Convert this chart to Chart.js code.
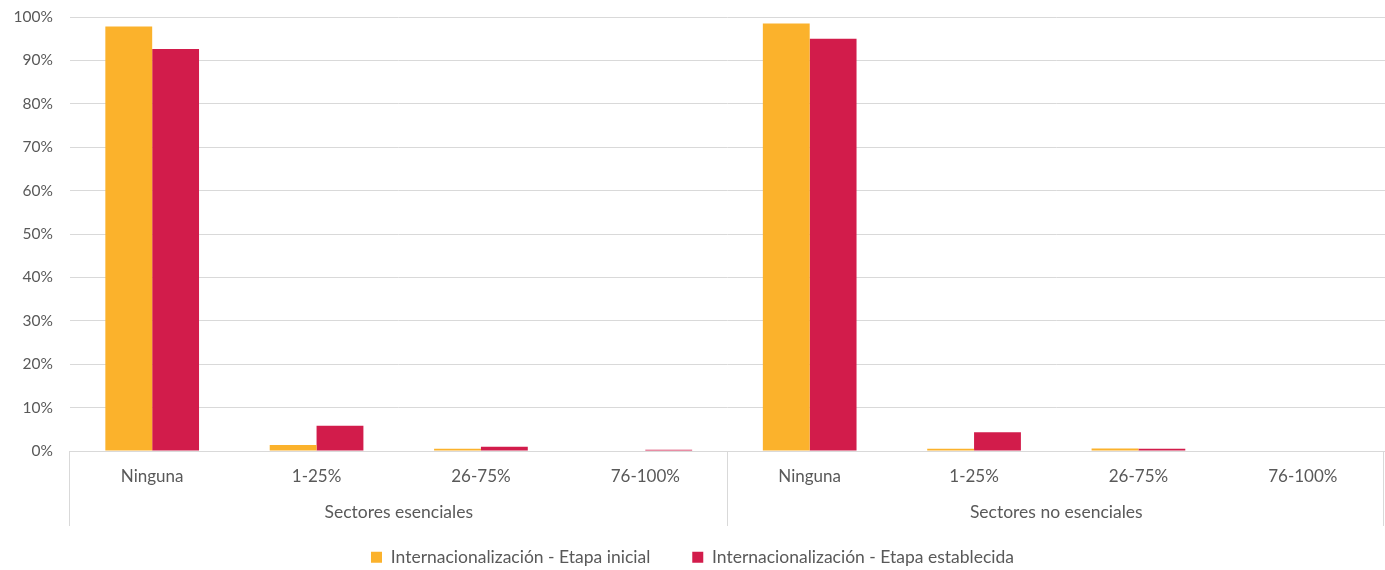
<!DOCTYPE html>
<html>
<head>
<meta charset="utf-8">
<script src="https://cdn.jsdelivr.net/npm/chart.js@4"></script>
<style>
  html, body { margin: 0; padding: 0; background: #fff; }
  #wrap { width: 1385px; height: 570px; }
</style>
</head>
<body>
<div id="wrap"><canvas id="myChart"></canvas></div>
<script>
const categories = ['Ninguna', '1-25%', '26-75%', '76-100%', 'Ninguna', '1-25%', '26-75%', '76-100%'];
const groups = ['Sectores esenciales', 'Sectores no esenciales'];
const seriesNames = ['Internacionalización - Etapa inicial', 'Internacionalización - Etapa establecida'];
const etapaInicial = [97.8, 1.4, 0.5, 0, 98.5, 0.5, 0.6, 0];
const etapaEstablecida = [92.6, 5.8, 1.0, 0.3, 95.0, 4.3, 0.5, 0];
const yTicks = [0, 10, 20, 30, 40, 50, 60, 70, 80, 90, 100];

const textColor = '#595959';
const lineColor = '#d9d9d9';
const fontFamily = 'Lato, "Open Sans", sans-serif';

// group labels + separators under the category axis
const groupAxis = {
  id: 'groupAxis',
  afterDraw(chart) {
    const ctx = chart.ctx;
    const x = chart.scales.x;
    const area = chart.chartArea;
    const half = (x.getPixelForValue(1) - x.getPixelForValue(0)) / 2;
    const per = categories.length / groups.length;
    ctx.save();
    ctx.strokeStyle = lineColor;
    ctx.lineWidth = 1;
    for (let g = 0; g <= groups.length; g++) {
      let px = g === groups.length ? x.getPixelForValue(categories.length - 1) + half : x.getPixelForValue(g * per) - half;
      px = Math.round(px) - 0.5;
      if (g === groups.length) px = Math.min(px, chart.width - 1.5);
      ctx.beginPath();
      ctx.moveTo(px, area.bottom);
      ctx.lineTo(px, area.bottom + 75);
      ctx.stroke();
    }
    ctx.fillStyle = textColor;
    ctx.font = '17.5px ' + fontFamily;
    ctx.textAlign = 'center';
    ctx.textBaseline = 'middle';
    groups.forEach((name, g) => {
      const a = x.getPixelForValue(g * per) - half;
      const b = x.getPixelForValue(g * per + per - 1) + half;
      ctx.fillText(name, (a + b) / 2, area.bottom + 61);
    });
    ctx.restore();
  }
};

const data = {
  labels: categories,
  datasets: [
    { label: seriesNames[0], data: etapaInicial, backgroundColor: '#FBB22C' },
    { label: seriesNames[1], data: etapaEstablecida, backgroundColor: '#D21C4B' }
  ]
};

const config = {
  type: 'bar',
  data: data,
  options: {
    responsive: true,
    maintainAspectRatio: false,
    animation: false,
    layout: { padding: { top: 17, right: 0, left: 0, bottom: -6 } },
    datasets: {
      bar: { categoryPercentage: 0.57, barPercentage: 1.0 }
    },
    scales: {
      x: {
        grid: { display: false, drawTicks: false },
        border: { display: true, color: lineColor, width: 1 },
        ticks: {
          color: textColor,
          font: { size: 17, family: fontFamily },
          padding: 15,
          maxRotation: 0,
          autoSkip: false
        },
        afterFit(scale) { scale.height = 55.5; }
      },
      y: {
        min: 0,
        max: 100,
        afterBuildTicks(scale) { scale.ticks = yTicks.map(v => ({ value: v })); },
        grid: { color: lineColor, drawTicks: false },
        border: { display: false },
        ticks: {
          color: textColor,
          font: { size: 15.5, family: fontFamily },
          padding: 17,
          callback: v => v + '%'
        },
        afterFit(scale) { scale.width = 70; scale.paddingTop = 0; }
      }
    },
    plugins: {
      tooltip: { enabled: false },
      legend: {
        position: 'bottom',
        labels: {
          color: textColor,
          font: { size: 17.5, family: fontFamily },
          boxWidth: 11,
          boxHeight: 11,
          padding: 42
        }
      }
    }
  },
  plugins: [groupAxis]
};

const myChart = new Chart(document.getElementById('myChart'), config);
</script>
</body>
</html>
